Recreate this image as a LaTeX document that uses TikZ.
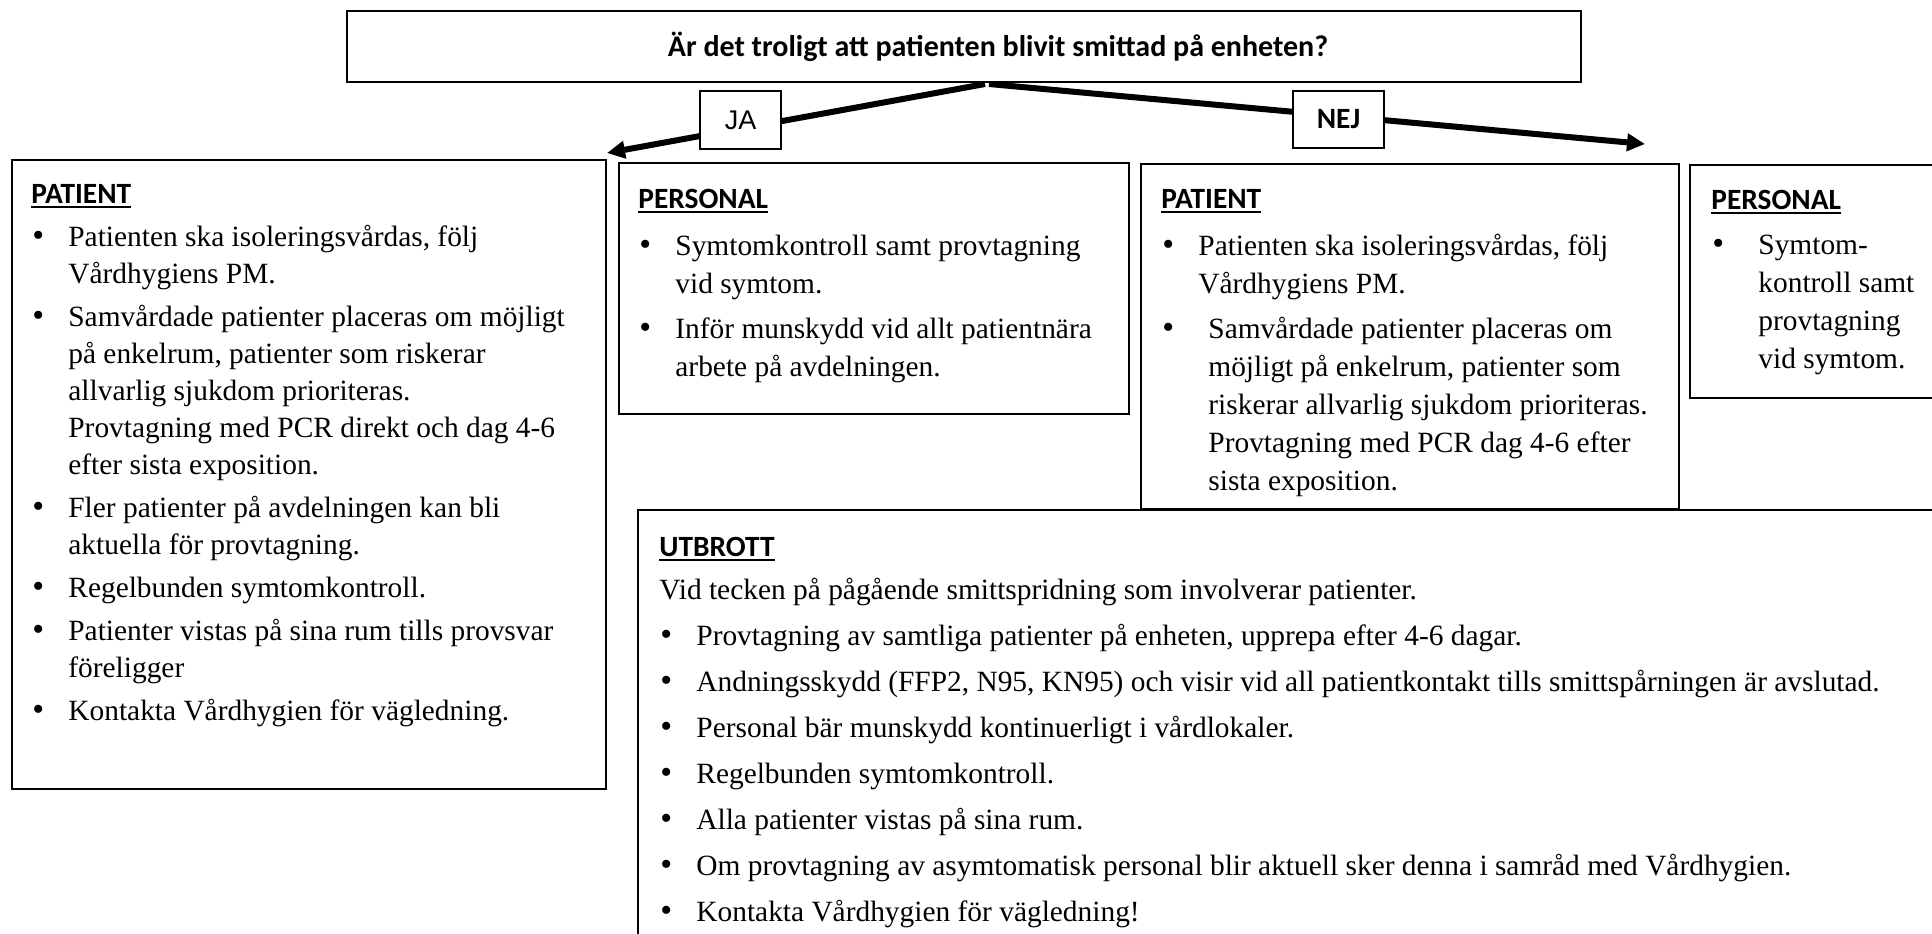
\documentclass[tikz,border=0pt]{standalone}
\usepackage{fontspec}
\setmainfont{Liberation Serif}
\newfontfamily\calfont{Carlito}
\newfontfamily\arialfont{Liberation Sans}
\usetikzlibrary{arrows.meta}
\newlength\bsep
\setlength\bsep{3.5pt}
\newcommand{\ulx}[1]{\setbox0\hbox{#1}\rlap{\rule[-2.5pt]{\wd0}{0.9pt}}\box0}
\newcommand{\hd}[1]{\noindent{\calfont\bfseries\ulx{#1}}\par}
\newcommand{\bul}[2][18.5pt]{\par\vspace{\bsep}\hangindent=#1\relax\hangafter=1\relax\noindent\makebox[#1][l]{\hspace{0.5pt}\scalebox{1.15}{\textbullet}}#2\par}
\newcommand{\bodyfont}{\fontsize{14.7pt}{19pt}\selectfont}
\begin{document}
\begin{tikzpicture}[x=0.5pt,y=-0.5pt,
  boxst/.style={draw, line width=1pt, inner sep=0pt, anchor=north west},
  txt/.style={inner sep=0pt, anchor=base west, font=\bodyfont},
  conn/.style={line width=3pt, -{Triangle[length=9pt,width=8.5pt]}},
  lab/.style={draw, line width=0.8pt, fill=white, inner sep=0pt}]
\useasboundingbox (0,0) rectangle (1932,933);
\clip (0,0) rectangle (1932,933);
\fill[white] (0,0) rectangle (1932,933);
% question
\node[draw, line width=0.8pt, minimum width=617pt, minimum height=35.5pt, inner sep=0pt,
  font=\calfont\bfseries\fontsize{15pt}{18pt}\selectfont] (q) at (964,46.5)
  {\hspace*{34pt}Är det troligt att patienten blivit smittad på enheten?};
% connectors
\coordinate (ls) at (985,84);
\coordinate (rs) at (989,84);
\coordinate (lt) at (607,153);
\coordinate (rt) at (1645,144);
\draw[conn] (ls) -- (lt);
\draw[conn] (rs) -- (rt);
\node[lab, minimum width=40.5pt, minimum height=29pt, font=\arialfont\fontsize{13.5pt}{16pt}\selectfont] (ja) at (740.5,120) {JA};
\node[lab, minimum width=45.5pt, minimum height=28.5pt, font=\calfont\bfseries\fontsize{14.7pt}{18pt}\selectfont] (nej) at (1338.5,119.5) {NEJ};
% boxes
\node[boxst, minimum width=297pt, minimum height=314.5pt] (lpat) at (11,159) {};
\node[boxst, minimum width=255pt, minimum height=125.5pt] (lpers) at (618,162) {};
\node[boxst, minimum width=269pt, minimum height=172.5pt] (rpat) at (1140,163) {};
\node[boxst, minimum width=130pt, minimum height=116.5pt] (rpers) at (1689,164) {};
\node[boxst, minimum width=660pt, minimum height=230pt] (utb) at (637,509) {};
% texts
\node[txt] (lpatt) at (31,203) {\parbox[t]{400pt}{\fontsize{14.7pt}{18.5pt}\selectfont\setlength\bsep{3pt}\hd{PATIENT}
\bul{Patienten ska isoleringsvårdas, följ\\Vårdhygiens PM.}
\bul{Samvårdade patienter placeras om möjligt\\på enkelrum, patienter som riskerar\\allvarlig sjukdom prioriteras.\\Provtagning med PCR direkt och dag 4-6\\efter sista exposition.}
\bul{Fler patienter på avdelningen kan bli\\aktuella för provtagning.}
\bul{Regelbunden symtomkontroll.}
\bul{Patienter vistas på sina rum tills provsvar\\föreligger}
\bul{Kontakta Vårdhygien för vägledning.}}};
\node[txt] (lperst) at (638,208) {\parbox[t]{400pt}{\setlength\bsep{4.5pt}\hd{PERSONAL}
\bul{Symtomkontroll samt provtagning\\vid symtom.}
\setlength\bsep{3.5pt}
\bul{Inför munskydd vid allt patientnära\\arbete på avdelningen.}}};
\node[txt] (rpatt) at (1161,208) {\parbox[t]{400pt}{\setlength\bsep{4.5pt}\hd{PATIENT}
\bul{Patienten ska isoleringsvårdas, följ\\Vårdhygiens PM.}
\setlength\bsep{3.5pt}
\bul[23.5pt]{Samvårdade patienter placeras om\\möjligt på enkelrum, patienter som\\riskerar allvarlig sjukdom prioriteras.\\Provtagning med PCR dag 4-6 efter\\sista exposition.}}};
\node[txt] (rperst) at (1711,209) {\parbox[t]{300pt}{\hd{PERSONAL}
\bul[23.5pt]{Symtom-\\kontroll samt\\provtagning\\vid symtom.}}};
\node[txt] (utbt) at (659,556) {\parbox[t]{800pt}{\setlength\bsep{4pt}\hd{UTBROTT}
\vspace{2.5pt}\noindent Vid tecken på pågående smittspridning som involverar patienter.\par
\bul{Provtagning av samtliga patienter på enheten, upprepa efter 4-6 dagar.}
\bul{Andningsskydd (FFP2, N95, KN95) och visir vid all patientkontakt tills smittspårningen är avslutad.}
\bul{Personal bär munskydd kontinuerligt i vårdlokaler.}
\bul{Regelbunden symtomkontroll.}
\bul{Alla patienter vistas på sina rum.}
\bul{Om provtagning av asymtomatisk personal blir aktuell sker denna i samråd med Vårdhygien.}
\bul{Kontakta Vårdhygien för vägledning!}}};
\end{tikzpicture}
\end{document}
